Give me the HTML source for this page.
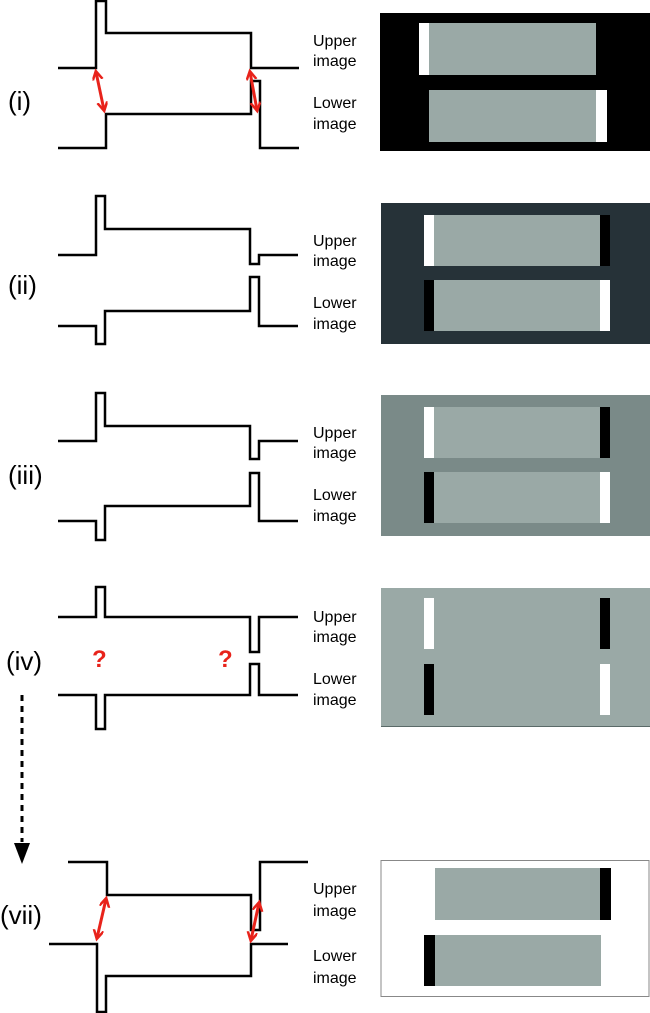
<!DOCTYPE html>
<html><head><style>
body{margin:0;background:#fff;}
svg{display:block;font-family:"Liberation Sans",sans-serif;}
.w{fill:none;stroke:#000;stroke-width:2.5;stroke-linejoin:miter;}
.l{font-size:16px;}
.n{font-size:26px;}
</style></head><body>
<svg width="650" height="1013" viewBox="0 0 650 1013">
<defs>
<marker id="ah" markerWidth="12" markerHeight="12" refX="8" refY="5" orient="auto-start-reverse" markerUnits="userSpaceOnUse">
<path d="M0,0 L9,5 L0,10" fill="none" stroke="#e8231b" stroke-width="2.5"/>
</marker>
</defs>

<!-- (i) -->
<text class="n" x="8" y="110">(i)</text>
<path class="w" d="M58,68 H96 V1 H106 V33 H251 V68 H299"/>
<path class="w" d="M58,148 H106 V114 H251 V81 H260 V148 H299"/>
<line x1="96" y1="72" x2="104" y2="110" stroke="#e8231b" stroke-width="3" marker-start="url(#ah)" marker-end="url(#ah)"/>
<line x1="250" y1="72" x2="257" y2="110" stroke="#e8231b" stroke-width="3" marker-start="url(#ah)" marker-end="url(#ah)"/>
<text class="l" x="313" y="46">Upper</text><text class="l" x="313" y="66">image</text>
<text class="l" x="313" y="108">Lower</text><text class="l" x="313" y="129">image</text>
<rect x="380" y="13" width="270" height="138" fill="#000"/>
<rect x="419" y="23" width="10" height="52" fill="#fff"/>
<rect x="429" y="23" width="167" height="52" fill="#9aa9a6"/>
<rect x="429" y="90" width="167" height="52" fill="#9aa9a6"/>
<rect x="596" y="90" width="11" height="52" fill="#fff"/>

<!-- (ii) -->
<text class="n" x="8" y="294">(ii)</text>
<path class="w" d="M58,255 H96 V196 H105 V229 H250 V264 H259 V255 H298"/>
<path class="w" d="M58,326 H96 V344 H105 V311 H250 V277 H259 V326 H298"/>
<text class="l" x="313" y="246">Upper</text><text class="l" x="313" y="266">image</text>
<text class="l" x="313" y="308">Lower</text><text class="l" x="313" y="329">image</text>
<rect x="381" y="203" width="269" height="141" fill="#263238"/>
<rect x="424" y="215" width="10" height="51" fill="#fff"/>
<rect x="434" y="215" width="166" height="51" fill="#9aa9a6"/>
<rect x="600" y="215" width="10" height="51" fill="#000"/>
<rect x="424" y="280" width="10" height="51" fill="#000"/>
<rect x="434" y="280" width="166" height="51" fill="#9aa9a6"/>
<rect x="600" y="280" width="10" height="51" fill="#fff"/>

<!-- (iii) -->
<text class="n" x="8" y="484">(iii)</text>
<path class="w" d="M58,441 H96 V393 H105 V426 H250 V459 H259 V441 H298"/>
<path class="w" d="M58,521 H96 V540 H105 V506 H250 V473 H259 V521 H298"/>
<text class="l" x="313" y="438">Upper</text><text class="l" x="313" y="458">image</text>
<text class="l" x="313" y="500">Lower</text><text class="l" x="313" y="521">image</text>
<rect x="381" y="395" width="269" height="141" fill="#7a8a88"/>
<rect x="424" y="407" width="10" height="51" fill="#fff"/>
<rect x="434" y="407" width="166" height="51" fill="#9aa9a6"/>
<rect x="600" y="407" width="10" height="51" fill="#000"/>
<rect x="424" y="472" width="10" height="51" fill="#000"/>
<rect x="434" y="472" width="166" height="51" fill="#9aa9a6"/>
<rect x="600" y="472" width="10" height="51" fill="#fff"/>

<!-- (iv) -->
<text class="n" x="6" y="670">(iv)</text>
<path class="w" d="M58,617 H96 V587 H105 V617 H250 V652 H259 V617 H298"/>
<path class="w" d="M58,695 H96 V729 H105 V695 H250 V664 H259 V695 H298"/>
<text x="92" y="667" fill="#e8231b" font-size="24" font-weight="bold">?</text>
<text x="218" y="667" fill="#e8231b" font-size="24" font-weight="bold">?</text>
<text class="l" x="313" y="622">Upper</text><text class="l" x="313" y="642">image</text>
<text class="l" x="313" y="684">Lower</text><text class="l" x="313" y="705">image</text>
<rect x="381" y="588" width="269" height="139" fill="#9aa9a6"/>
<line x1="381" y1="726.5" x2="650" y2="726.5" stroke="#5a6a68" stroke-width="1"/>
<rect x="424" y="598" width="10" height="51" fill="#fff"/>
<rect x="600" y="598" width="10" height="51" fill="#000"/>
<rect x="424" y="664" width="10" height="51" fill="#000"/>
<rect x="600" y="664" width="10" height="51" fill="#fff"/>

<!-- dashed arrow -->
<line x1="22" y1="695" x2="22" y2="842" stroke="#000" stroke-width="3" stroke-dasharray="6,5"/>
<path d="M14,843 L30,843 L22,864 Z" fill="#000"/>

<!-- (vii) -->
<text class="n" x="0" y="924">(vii)</text>
<path class="w" d="M68,862 H107 V895 H251 V930 H260 V862 H308"/>
<path class="w" d="M49,944 H97 V1012 H106 V976 H251 V944 H288"/>
<line x1="106" y1="899" x2="97" y2="938" stroke="#e8231b" stroke-width="3" marker-start="url(#ah)" marker-end="url(#ah)"/>
<line x1="259" y1="903" x2="251" y2="940" stroke="#e8231b" stroke-width="3" marker-start="url(#ah)" marker-end="url(#ah)"/>
<text class="l" x="313" y="894">Upper</text><text class="l" x="313" y="916">image</text>
<text class="l" x="313" y="961">Lower</text><text class="l" x="313" y="983">image</text>
<rect x="381" y="860.5" width="268" height="136" fill="#fff" stroke="#888" stroke-width="1"/>
<rect x="435" y="868" width="165" height="52" fill="#9aa9a6"/>
<rect x="600" y="868" width="11" height="52" fill="#000"/>
<rect x="424" y="935" width="11" height="51" fill="#000"/>
<rect x="435" y="935" width="166" height="51" fill="#9aa9a6"/>
</svg>
</body></html>
